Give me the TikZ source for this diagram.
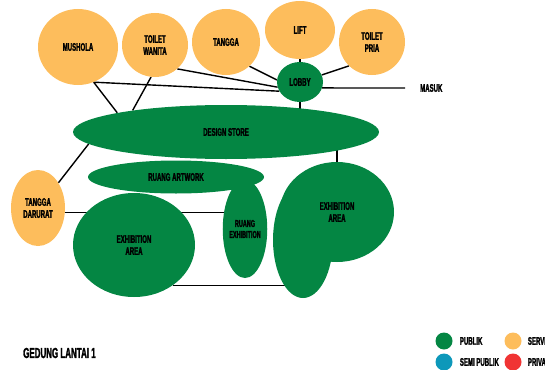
\documentclass[tikz,border=0pt]{standalone}
\usepackage{fontspec}
\setmainfont{Liberation Sans}[FakeStretch=0.55, FakeBold=1.8]
\usepackage{xcolor}
\definecolor{lpgreen}{RGB}{4,134,67}
\definecolor{lporange}{RGB}{253,189,92}
\definecolor{lpblue}{RGB}{13,152,186}
\definecolor{lpred}{RGB}{240,52,52}
\usetikzlibrary{positioning, shapes.geometric}
\pgfdeclarelayer{background}
\pgfsetlayers{background,main}
\tikzset{
  room/.style={ellipse, inner sep=0pt, align=center, text=black,
    font=\fontsize{11}{12}\selectfont\bfseries},
  publik/.style={room, fill=lpgreen},
  servis/.style={room, fill=lporange},
  link/.style={line width=1.4pt, black},
  dot/.style={circle, minimum size=17pt, inner sep=0pt},
  legendtxt/.style={font=\fontsize{11}{12}\selectfont\bfseries, inner sep=0pt}
}

\begin{document}
\begin{tikzpicture}[x=1pt, y=-1pt]
  \useasboundingbox (0,0) rectangle (545,369);

  % --- Top row: service rooms ---
  \node[servis, minimum width=80pt, minimum height=76pt] (mushola) at (78,47) {MUSHOLA};
  \node[servis, minimum width=66pt, minimum height=64pt] (toiletw) at (155,45) {TOILET\\WANITA};
  \node[servis, minimum width=68pt, minimum height=66pt] (tangga) at (226,42) {TANGGA};
  \node[servis, minimum width=70pt, minimum height=58pt] (lift) at (300,30) {LIFT};
  \node[servis, minimum width=66pt, minimum height=66pt] (toiletp) at (372,42) {TOILET\\PRIA};
  % Lobby and entrance
  \node[publik, minimum width=46pt, minimum height=40pt] (lobby) at (300,82) {LOBBY};
  \node[legendtxt, anchor=west] (masuk) at (420,88) {MASUK};

  % --- Public rooms ---
  \node[publik, minimum width=306pt, minimum height=54pt] (store) at (226,132) {DESIGN STORE};
  \node[publik, minimum width=176pt, minimum height=33pt] (artwork) at (176,177) {RUANG ARTWORK};
  \node[servis, minimum width=54pt, minimum height=76pt] (darurat) at (38,208) {TANGGA\\DARURAT};
  \node[publik, minimum width=122pt, minimum height=104pt] (exleft) at (134,245) {EXHIBITION\\AREA};
  \node[publik, minimum width=36pt, minimum height=98pt,
        font=\fontsize{10}{11}\selectfont\bfseries] (ruangex) at (245,229) {RUANG\\EXHIBITION};
  % Right exhibition area (two lobes)
  \node[publik, minimum width=60pt, minimum height=116pt] (exlobe) at (303,240) {};
  \node[publik, minimum width=114pt, minimum height=100pt] (exright) at (337,212) {EXHIBITION\\AREA};

  % --- Connections ---
  \begin{pgfonlayer}{background}
    \draw[link] (mushola.294) -- (lobby.204);
    \draw[link] (mushola.294) -- (store.170);
    \draw[link] (toiletw.263) -- (store.167);
    \draw[link] (toiletw.313) -- (lobby.193);
    \draw[link] (tangga.314) -- (lobby.175);
    \draw[link] (lift) -- (lobby);
    \draw[link] (toiletp.226) -- (lobby.18);
    \draw[link] (lobby) -- (store.center-|lobby.center);
    \draw[link] (lobby.345) -- ([xshift=-15pt]masuk.west);
    \draw[link] (store.185) -- (darurat.51);
    \draw[link] (exright.north) -- (exright.north|-store.center);
    \draw[link] (darurat.350) -- (darurat.350-|ruangex.center);
    \draw[link] (exleft.314) -- (exleft.314-|exlobe.center);
  \end{pgfonlayer}

  % --- Title ---
  \node[font=\fontsize{14.5}{15}\selectfont\bfseries, anchor=west, inner sep=0pt] (title) at (23,353) {GEDUNG LANTAI 1};

  % --- Legend ---
  \node[dot, fill=lpgreen] (pubdot) at (444,341) {};
  \node[legendtxt, right=7pt of pubdot] (pubtxt) {PUBLIK};
  \node[dot, fill=lporange] (servdot) at (513,341) {};
  \node[legendtxt, right=6pt of servdot] (servtxt) {SERVIS};
  \node[dot, fill=lpblue] (semidot) at (444,362) {};
  \node[legendtxt, right=7pt of semidot] (semitxt) {SEMI PUBLIK};
  \node[dot, fill=lpred] (privdot) at (513,362) {};
  \node[legendtxt, right=6pt of privdot] (privtxt) {PRIVAT};
\end{tikzpicture}
\end{document}
